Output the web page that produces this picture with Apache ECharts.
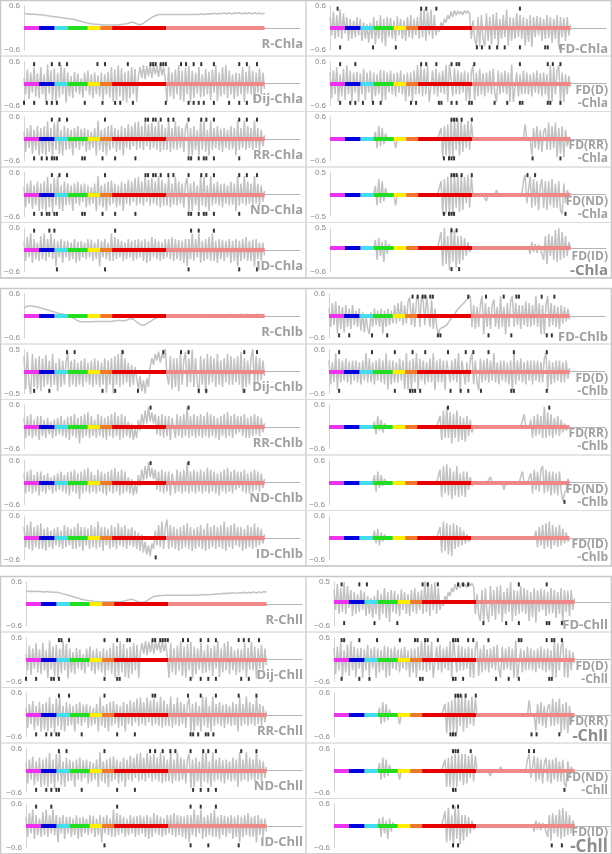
<!DOCTYPE html>
<html><head><meta charset="utf-8">
<script src="https://cdn.jsdelivr.net/npm/echarts@6/dist/echarts.min.js"></script>
<style>html,body{margin:0;padding:0;background:#fff}#c{width:612px;height:854px}</style>
</head><body><div id="c"></div>
<script>
// ---- colored region bar along the zero line (position units, 0..95) ----
const segBounds = [0, 5.9, 12.1, 17.3, 25.2, 30.1, 34.8, 56.2, 95];
const segColors = ['#ee33ee', '#0000dd', '#44ddee', '#22dd22', '#ffee00', '#f07828', '#e80000', '#f08888'];

// ---- series values ----
const rChla = [.40,.38,.39,.37,.38,.37,.36,.36,.35,.34,.33,.32,.31,.30,.29,.28,.27,.26,.25,.24,.23,.21,.19,.17,.15,.14,.12,.11,.10,.10,.09,.09,.08,.08,.08,.08,.08,.09,.09,.10,.11,.12,.15,.16,.13,.10,.09,.12,.17,.22,.27,.31,.34,.36,.37,.37,.37,.37,.37,.37,.37,.37,.37,.37,.37,.37,.37,.37,.37,.37,.38,.37,.38,.39,.38,.40,.38,.40,.39,.41,.39,.41,.38,.41,.40,.42,.38,.41,.39,.42,.38,.42,.39,.41,.38,.41];
const dijChla = [.15,-.3,.38,-.42,.3,-.25,.44,-.35,.28,-.4,
.45,-.3,.25,-.5,.52,-.28,.35,-.45,.4,-.5,.3,-.38,.5,-.3,.42,-.52,
.3,-.35,.2,-.4,.32,-.25,.28,-.3,.15,-.38,.3,-.2,.35,-.32,.25,-.4,.3,-.3,.22,-.35,.3,-.45,.25,-.3,.32,-.38,
.45,-.5,.38,-.45,.5,-.35,.42,-.48,.3,-.52,.35,-.4,.45,-.3,.4,-.5,.2,
.45,.15,.5,.12,.48,.2,.52,.15,.5,.25,.48,.18,.52,.22,.45,.1,
-.5,.45,-.35,.3,-.42,.38,-.3,.5,-.45,.35,-.5,.42,-.3,.48,-.52,.35,-.4,.3,-.28,.45,-.38,.25,-.35,.4,-.3,.32,-.45,.38,-.25,.5,-.48,.3,-.35,.45,-.3,.5,-.4,.35,-.3,.25,-.42,.3,-.35,.28,-.3,.45,-.5,.32,-.28,.48,-.3,.35,-.52,.3,-.25,.4,-.3,.3,-.15];
const rrChla = [.2,-.35,.3,-.25,.38,-.4,.25,-.3,.35,-.45,
.3,-.4,.35,-.45,.48,-.35,.3,-.5,.45,-.3,.5,-.4,.25,-.45,.35,-.3,
.3,-.28,.25,-.45,.3,-.25,.35,-.3,.28,-.2,.3,-.35,.25,-.3,.2,-.25,.3,-.45,.5,-.3,.25,-.35,.3,-.45,.35,-.3,
.38,-.25,.3,-.35,.25,-.3,.35,-.45,.3,-.25,.4,-.3,.35,-.2,.45,-.3,.48,-.25,.35,-.3,.48,-.2,.4,-.3,.45,-.25,.35,-.3,.5,-.35,.4,-.3,.3,
-.3,.5,-.35,.3,-.28,.48,-.3,.35,-.25,.3,-.35,.3,.45,-.48,.3,-.45,.35,-.3,.25,-.45,.5,-.3,.48,-.35,.25,-.45,.5,-.3,.3,-.25,.35,-.3,.28,-.35,.3,-.25,.25,-.3,.35,-.28,.3,-.45,.5,-.3,.3,-.25,.5,-.3,.35,-.25,.3,-.3,.5,-.25,.3,-.3,.25,-.2,.1];
const idChla = [.25,-.3,.35,-.2,.45,-.35,.3,-.25,.2,-.3,
.38,-.25,.45,-.3,.3,-.2,.45,-.25,.3,-.45,.25,-.2,.3,-.35,.25,-.2,
.25,-.3,.2,-.25,.3,-.35,.22,-.3,.25,-.2,.2,-.25,.3,-.2,.28,-.3,.2,-.25,.3,-.45,.25,-.2,.3,-.25,.2,-.3,
.45,-.3,.35,-.25,.3,-.2,.25,-.3,.2,-.25,.3,-.2,.25,-.3,.28,-.25,.3,-.2,.25,-.3,.3,-.35,.25,-.3,.35,-.2,.3,-.25,.25,-.3,.2,-.25,.3,
-.2,.3,-.25,.35,-.3,.3,-.25,.28,-.3,.25,-.35,.3,-.45,.3,-.25,.45,-.3,.3,-.2,.45,-.35,.25,-.3,.3,-.25,.35,-.3,.45,-.3,.25,-.35,.3,-.25,.28,-.3,.25,-.2,.3,-.35,.25,-.3,.3,-.45,.25,-.3,.3,-.25,.35,-.3,.25,-.3,.28,-.45,.3,-.25,.2,-.3,.2,-.15];
const fdChla = [.3,-.2,.45,-.3,.35,-.25,.5,-.3,.4,-.15,
.3,-.35,.25,-.3,.2,-.25,.3,-.2,.25,
-.35,.15,-.3,.1,-.4,.15,-.3,
.3,-.45,.2,-.3,.35,-.4,.25,-.5,.3,-.25,.28,-.3,.2,
-.35,.32,-.2,.25,-.3,.2,-.35,.3,-.25,.35,-.3,.25,-.2,.3,
-.3,.52,-.25,.5,-.35,.45,-.2,.5,-.3,.35,-.2,
.05,-.1,.15,.05,.25,.15,.35,.25,.45,.3,.48,.35,.47,.38,.45,.36,.48,.4,.47,.38,
-.3,.2,-.3,
-.48,.3,-.5,.35,-.3,-.5,.4,-.35,.3,-.45,.38,-.3,.42,-.5,.25,-.3,.35,-.25,.5,-.48,.3,-.35,.28,-.3,.4,-.25,.35,-.3,.3,-.48,.25,-.38,.35,-.52,.3,-.25,.33,-.2,.3,-.35,.25,-.3,.35,-.28,.3,-.4,.25,-.3,.35,-.5,.3,-.25,.28,-.35,.3,-.2,.1];
const fdDChla = [.3,-.4,.35,-.3,.45,-.5,.25,-.35,.4,-.45,
.5,-.3,.35,-.48,.3,-.25,.32,-.5,.28,-.3,.4,-.45,.3,-.25,.35,-.5,
.3,-.35,.25,-.3,.38,-.5,.35,-.45,.3,-.25,.35,-.3,.28,-.35,.3,-.25,.35,-.3,.25,-.48,.3,-.35,.3,-.5,.35,-.3,
.5,-.3,.52,-.35,.4,-.3,.48,-.5,-.45,.35,-.3,.4,-.35,.3,-.25,.35,-.3,.5,-.5,.52,.48,-.35,.4,-.3,.35,-.3,.3,-.25,.35,-.48,.3,-.5,.3,
.5,-.45,.3,-.35,.4,-.3,.28,-.35,.3,-.25,.35,-.3,.4,-.28,-.5,.35,-.3,.3,-.25,.35,-.3,.3,-.5,.52,-.5,-.45,.3,-.35,.25,-.3,.35,-.28,.3,-.3,.25,-.35,.3,-.25,.35,-.3,.28,-.35,.3,-.3,.25,-.5,.5,-.5,.45,-.3,.35,.5,-.48,.3,-.5,.25,-.3,.2,-.1];
const fdRRChla = [0,0,0,0,0,0,0,0,0,0, 0,0,0,0,0,0,0,0,0,0, 0,0,0,0,0,0,0,
.2,-.25,.35,-.2,.3,-.15,.15,
0,0,0,0,0,
-.25,
0,0,0,0,0,0,0,0,0,0, 0,0,0,0,0,0,0,0,0,0, 0,0,0,0,0,0,
.3,-.5,.35,-.45,.4,-.5,.55,-.5,.55,-.3,.55,-.45,.5,-.35,.4,-.25,.5,-.3,.45,
0,0,0,0,0,0,0,0,0,0, 0,0,0,0,0,0,0,0,0,0, 0,0,0,0,0,0,0,0,0,0, 0,
.4,
0,0,0,
-.45,.3,-.25,.35,-.3,.25,-.35,.2,.3,-.3,.45,-.3,.35,-.25,.45,-.5,.3,-.4,.35,-.5,.25,-.2,
0,0];
const fdNDChla = [0,0,0,0,0,0,0,0,0,0, 0,0,0,0,0,0,0,0,0,0, 0,0,0,0,0,0,0,
.2,-.25,.35,-.2,.3,-.15,.15,
0,0,0,0,0,
-.25,
0,0,0,0,0,0,0,0,0,0, 0,0,0,0,0,0,0,0,0,0, 0,0,0,0,0,0,
.3,-.45,.35,-.45,.4,-.45,.45,-.45,.45,-.3,.45,-.4,.45,-.35,.4,-.2,.45,-.3,.4,
0,0,0,0,0,0,0,0,
-.15,
0,0,0,0,0,
.1,
0,0,0,0,0,0,0,0,0,0, 0,0,0,0,0,
.3,.45,-.2,.1,
.4,-.3,.35,-.25,.3,-.35,.2,.35,-.3,.3,-.35,.3,-.25,.35,-.3,.25,-.3,.3,-.35,-.45,.25,-.2,.1,
0,0];
const fdIDChla = [0,0,0,0,0,0,0,0,0,0, 0,0,0,0,0,0,0,0,0,0, 0,0,0,0,0,0,0,
.2,-.3,.25,-.2,.15,-.35,.2,-.15,.1,
0,0,0,0,0,0,0,0,0,0, 0,0,0,0,0,0,0,0,0,0, 0,0,0,0,0,0,0,0,0,0,
.4,-.45,.5,-.4,.3,-.55,.55,-.35,.45,-.5,.3,-.4,.3,-.3,.25,-.2,.15,-.1,
0,0,0,0,0,0,0,0,0,0, 0,0,0,0,0,0,0,0,0,0, 0,0,0,0,0,0,0,0,0,0, 0,0,0,0,0,
-.15,.15,-.1,.1,-.12,.08,
0,0,
-.3,.3,-.4,.35,-.2,.3,-.3,.45,-.35,.5,-.3,.4,-.25,.3,-.2,.15,
0];

const rChlb = [.22,.26,.27,.27,.26,.25,.23,.21,.19,.17,.15,.13,.11,.09,.07,.06,.04,.03,0,-.04,-.08,-.12,-.15,-.16,-.16,-.16,-.16,-.16,-.15,-.15,-.15,-.15,-.15,-.15,-.15,-.14,-.13,-.12,-.12,-.13,-.13,-.1,-.07,-.08,-.13,-.19,-.24,-.25,-.23,-.19,-.14,-.1,-.06,-.03,-.01,0,.01,.02,.02,.02,.02,.03,.02,.02,.03,.02,.03,.02,.03,.02,.03,.02,.03,.02,.03,.04,.02,.03,.04,.02,.04,.02,.05,.01,.04,.02,.05,.01,.05,.02,.04,.01,.05,.02,.04,.03];
const dijChlb = [.35,-.4,.45,-.3,-.52,.4,-.35,.3,-.4,.35,
-.45,.3,-.35,.38,-.3,.25,-.35,.4,-.3,.2,-.45,.3,-.35,.25,-.3,.2,
.42,-.35,.25,-.3,.28,-.35,.2,-.3,.25,-.35,.3,-.25,.2,-.3,.25,-.35,.3,-.3,.25,-.35,.2,-.3,.3,-.48,.25,-.3,
.3,-.5,.35,-.3,.4,-.35,.5,-.3,.3,-.25,.2,-.35,.15,-.3,.1,
-.15,-.4,-.1,-.45,-.2,-.5,-.15,-.35,
.1,.3,.15,.4,.25,.45,.2,.4,.3,.55,-.1,
-.3,.35,-.4,.3,-.35,.3,-.45,.4,-.3,.25,.45,-.35,.3,-.25,.5,-.35,.3,-.25,-.5,.35,-.3,.3,-.5,.4,-.3,.35,-.25,.3,-.35,.4,-.3,.25,-.35,.3,-.25,.4,-.3,.35,-.3,.3,-.25,.35,-.3,.45,-.5,.3,-.35,.25,-.3,.3,.5,-.3,.35,-.25,.3,-.2,.25,-.1];
const rrChlb = [.25,-.3,.3,-.25,.35,-.3,.2,-.25,.3,-.35,
.3,-.25,.2,-.3,.25,-.2,.15,-.3,.2,-.25,.25,-.2,.3,-.25,.2,-.3,
.28,-.35,.3,-.25,.35,-.3,.25,-.45,.3,-.3,.35,-.25,.4,-.3,.3,-.25,.2,-.3,.35,-.25,.3,-.3,.25,-.35,.3,-.25,
.35,-.3,.4,-.25,.3,-.35,.35,-.3,.3,-.25,.15,-.3,.1,-.35,-.05,-.3,.2,-.1,.35,.05,.45,.1,.55,.15,.4,.1,.35,-.2,.3,-.25,.35,-.3,.3,
-.25,.3,-.35,.25,.3,-.3,.35,-.25,.3,-.3,.35,-.25,.55,-.3,.3,-.25,.35,-.3,.3,-.25,.35,-.3,.3,-.25,.4,-.3,.35,-.25,.3,-.3,.25,-.35,.3,-.25,.35,-.3,.4,-.25,.3,-.3,.35,-.2,.3,-.15,.3,-.25,.35,-.3,.25,-.3,.3,-.25,.35,-.2,.3,-.25,.25,-.15,.1];
const idChlb = [.3,-.25,.35,-.3,.45,-.35,.3,-.25,.35,-.3,
.4,-.3,.25,-.35,.3,-.25,.2,-.3,.25,-.2,.3,-.25,.2,-.3,.35,-.25,
.3,-.2,.25,-.3,.3,-.3,.4,-.25,.3,-.35,.3,-.2,.25,-.3,.35,-.25,.3,-.3,.45,-.25,.3,-.35,.3,-.2,.25,-.3,
.35,-.25,.3,-.3,.4,-.2,.3,-.25,.35,-.3,.25,-.2,.3,-.25,.2,-.3,.15,-.35,.1,-.4,-.1,-.45,-.2,-.5,-.15,-.3,.2,-.2,.35,-.25,.45,-.3,.3,
.5,-.3,.35,-.25,.3,-.3,.25,-.35,.3,-.3,.35,-.25,.4,-.3,.3,-.35,.25,-.3,.3,-.25,.35,-.3,.25,-.35,.4,-.3,.3,-.25,.35,-.3,.3,-.25,.35,-.3,.45,-.35,.3,-.25,.35,-.3,.4,-.2,.3,-.25,.3,-.35,.25,-.3,.35,-.25,.3,-.3,.4,-.25,.3,-.2,.25,-.15,.1];
const fdChlb = [.2,-.3,.35,-.25,.4,-.48,.3,-.35,.25,-.45,
.3,-.3,.2,-.35,.3,-.25,.15,-.3,.2,
-.4,.1,-.45,.05,-.35,-.5,.1,
-.3,.2,-.25,.15,-.3,.2,-.48,.15,-.3,.2,-.25,.15,-.2,
.3,-.2,.35,-.15,.4,-.25,.3,-.2,.4,.5,-.25,.35,-.3,.45,
.55,-.3,.55,.4,-.25,.55,.5,-.3,.45,-.35,.2,
-.3,-.5,-.35,-.4,-.3,-.35,-.25,
-.2,-.1,-.15,0,.05,.15,.1,.25,.2,.35,.3,.45,.4,.55,
-.3,.3,-.35,.25,-.3,.3,.55,-.5,.35,-.3,.25,-.35,.3,.45,-.3,.25,-.35,.55,-.3,.25,-.5,.35,-.3,.4,.55,-.3,.35,-.25,.3,-.35,.3,-.25,.4,-.3,.35,-.3,.3,-.25,.55,-.3,.35,-.5,.3,-.5,.3,.55,-.3,.35,-.25,.3,-.3,.25,-.35,.3,-.2,.25,-.15,.2,-.1];
const fdDChlb = [.3,-.35,.25,-.3,.5,-.5,.35,-.3,.3,-.25,
.35,-.3,.28,-.35,.3,-.25,.3,-.3,.25,-.35,.3,-.25,.5,-.3,.35,-.3,
.25,-.35,.3,-.25,.35,-.3,.3,-.35,.5,-.5,.3,-.35,.3,-.3,.25,-.3,.35,-.25,.3,-.48,.5,-.5,.3,-.48,.35,-.3,
.5,-.5,.35,-.25,.3,-.35,.25,-.3,.35,-.3,.5,-.5,.3,-.3,.35,-.3,.3,-.5,.3,.35,-.3,.3,-.25,.35,-.3,.5,-.5,.3,.3,-.35,.25,-.3,.3,
.5,-.35,.3,-.3,-.5,.35,-.3,.3,-.25,.35,-.3,.3,-.25,.5,-.3,.25,-.35,.3,-.25,.3,-.3,.25,-.35,.3,-.5,.5,-.35,.3,-.25,.35,-.3,.25,-.35,.3,-.25,.3,-.35,.3,-.25,.3,-.3,.25,-.3,.35,.5,-.5,.3,-.35,.25,-.3,.3,-.25,.3,-.3,.25,-.3,.3,-.2,.1];
const fdRRChlb = [0,0,0,0,0,0,0,0,0,0, 0,0,0,0,0,0,0,0,0,0, 0,0,0,0,0,0,0,
.15,-.2,.3,-.1,.2,-.15,.1,
0,0,0,0,0,0,0,0,0,0, 0,0,0,0,0,0,0,0,0,0, 0,0,0,0,0,0,0,0,0,0, 0,0,
.3,-.35,.45,-.3,.55,-.3,.4,-.45,.35,-.3,.45,-.4,.3,-.35,.25,-.4,.3,-.25,.2,-.15,
0,0,0,0,0,0,0,0,0,0, 0,0,0,0,0,0,0,0,0,0, 0,0,0,0,0,0,0,0,0,0,
.35,
0,0,0,
.2,-.3,.3,-.25,.35,-.2,.3,-.3,.55,-.3,.4,-.25,.35,-.3,.25,-.2,.3,-.25,.2,-.15,.1,-.1,
0,0];
const fdNDChlb = [0,0,0,0,0,0,0,0,0,0, 0,0,0,0,0,0,0,0,0,0, 0,0,0,0,0,0,0,
.2,-.25,.3,-.15,.2,-.1,.1,
0,0,0,0,0,0,0,0,0,0, 0,0,0,0,0,0,0,0,0,0, 0,0,0,0,0,0,0,0,0,0, 0,0,
.35,-.4,.45,-.3,.5,-.35,.4,-.45,.3,-.35,.45,-.4,.25,-.35,.3,-.4,.3,-.2,.15,-.1,
0,0,0,0,0,0,0,0,0,0,
.15,
0,0,0,0,0,0,0,
-.2,
0,0,0,0,0,0,0,0,0,0,
.3,
0,0,0,0,
.25,-.3,.35,-.2,.3,-.25,.35,.45,-.3,.35,-.25,.3,-.35,.3,-.3,.25,-.35,.3,-.25,-.5,-.3,-.2,.1,
0];
const fdIDChlb = [0,0,0,0,0,0,0,0,0,0, 0,0,0,0,0,0,0,0,0,0, 0,0,0,0,0,0,0,
.2,-.15,.25,-.2,.15,-.1,.1,
0,0,0,0,0,0,0,0,0,0, 0,0,0,0,0,0,0,0,0,0, 0,0,0,0,0,0,0,0,0,0, 0,0,
.3,-.4,.45,-.35,.4,-.45,.35,-.5,.4,-.3,.35,-.25,.3,-.2,.2,-.15,.1,-.1,
0,0,0,0,0,0,0,0,0,0, 0,0,0,0,0,0,0,0,0,0, 0,0,0,0,0,0,0,0,0,0, 0,0,0,0,0,0,0,0,0,
.2,-.25,.3,-.2,.35,-.3,.4,-.25,.45,-.3,.35,-.2,.3,-.25,.35,-.2,.25,-.15,.15,-.1,
0];

const rChll = [.36,.34,.35,.34,.35,.34,.34,.33,.34,.33,.33,.32,.32,.31,.29,.27,.25,.23,.21,.19,.17,.15,.13,.11,.1,.09,.08,.07,.07,.06,.06,.06,.06,.06,.06,.06,.06,.06,.07,.08,.1,.12,.12,.1,.07,.05,.04,.06,.1,.15,.19,.21,.22,.23,.23,.24,.24,.24,.24,.24,.24,.24,.24,.24,.24,.24,.24,.24,.24,.25,.25,.25,.25,.26,.26,.27,.27,.28,.29,.28,.3,.29,.31,.29,.31,.3,.32,.29,.32,.3,.33,.3,.33,.31,.34,.32];

// ---- black extreme markers: [top positions], [bottom positions] (0..95) ----
const mk = {
  dijChla: [[4,11,14,17,29,32,41,50,51,52,54,55,56,62,64,67,70,75,85,88,92],[0,4,9,11,13,24,31,36,38,43,56,65,67,69,71,75,81,85,88]],
  rrChla: [[11,14,17,32,48,49,51,52,54,57,59,65,70,72,75,85,88,92],[4,7,9,11,12,13,23,24,31,36,44,65,66,69,71,72,75,85]],
  ndChla: [[11,14,17,32,48,49,51,52,54,57,59,65,70,72,75,85,88,92],[4,7,9,10,12,13,23,24,31,36,44,65,66,69,71,72,75,85]],
  idChla: [[4,10,12,36,66,69,75],[13,32,65,85,92]],
  fdChla: [[3,36,38,42,75],[4,17,26,58,60,63,66,69,75,85,86,91]],
  fdDChla: [[4,10,36,38,42,48,50,51,57,75,86,88,91],[4,8,10,13,17,20,32,34,43,44,48,50,55,56,65,70,75,76,86,87,91]],
  fdRRChla: [[48,49,50,52,56],[45,47,48,49,80,91]],
  fdNDChla: [[48,49,50,52,56,78,81],[45,47,48,49,93]],
  fdIDChla: [[48,50],[48,51]],
  dijChlb: [[17,20,39,55,62,65,87,92],[4,10,31,36,45,69,72,87]],
  rrChlb: [[50,65],[]],
  ndChlb: [[50,65],[]],
  idChlb: [[],[52]],
  fdChlb: [[33,35,37,38,40,41,55,62,69,74,75,84,89],[4,8,17,23,43,44,63,72,86,88]],
  fdDChlb: [[4,17,26,33,38,47,54,57,63,73,86],[4,26,32,33,34,36,48,52,55,60,72,73,86]],
  fdRRChlb: [[47,87],[]],
  fdNDChlb: [[],[93]],
  fdIDChlb: [[],[]],
  dijChll: [[13,14,17,31,36,40,41,50,51,53,54,55,56,62,64,69,72,75,84,86,88,92],[0,4,10,11,13,31,36,37,65,69,72,75,85,88]],
  rrChll: [[13,17,31,50,51,64,69,75,84,91],[4,8,10,12,13,22,36,43,65,66,68,71,72,74]],
  ndChll: [[13,16,31,49,51,54,57,59,65,70,72,75,85,91],[4,8,10,12,13,22,36,43,66,69,72,75]],
  idChll: [[4,10,36,65,69,75],[31,65,72,84]],
  fdChll: [[3,10,13,35,37,41,49,51,53,73,84],[4,16,25,59,68,73,84,85,90]],
  fdDChll: [[3,4,10,17,26,32,33,36,37,41,47,48,49,53,55,61,73,74,84,86,87,90],[3,10,14,34,35,47,48,51,64,69,73,85,86]],
  fdRRChll: [[48,49,50,52,56],[46,47,48,78,80,89]],
  fdNDChll: [[47,48,49,54,77,79],[47,48,91]],
  fdIDChll: [[47,49],[47,49,86,90]]
};

// ---- axis ranges that differ from the usual -0.6 .. 0.6 ----
const yRange = {'FD(ND)Chla': [-0.5, 0.5], 'FD(ID)Chla': [-0.6, 0.5], 'DijChlb': [-0.5, 0.5], 'FDChll': [-0.6, 0.5]};

// ---- panels ----
const groupNames = ['Chla', 'Chlb', 'Chll'];
const leftNames = ['R', 'Dij', 'RR', 'ND', 'ID'];
const rightNames = ['FD', 'FD(D)', 'FD(RR)', 'FD(ND)', 'FD(ID)'];
const values = {
  Chla: [rChla, dijChla, rrChla, rrChla, idChla, fdChla, fdDChla, fdRRChla, fdNDChla, fdIDChla],
  Chlb: [rChlb, dijChlb, rrChlb, rrChlb, idChlb, fdChlb, fdDChlb, fdRRChlb, fdNDChlb, fdIDChlb],
  Chll: [rChll, dijChla, rrChla, rrChla, idChla, fdChla, fdDChla, fdRRChla, fdNDChla, fdIDChla]
};
const markKeys = ['r','dij','rr','nd','id','fd','fdD','fdRR','fdND','fdID'];
const bigSuffix = {'FD(ID)Chla': 15, 'FD(RR)Chll': 16, 'FD(ID)Chll': 17};

// layout
const N = 96;
const groupTop = [0, 288, 576];
const rowPitch = 55.5;
const leftX = [24, 24, 26], rightX = [330, 329, 334];
const gridW = 276, xMax = 109;

const grids = [], xAxes = [], yAxes = [], series = [], graphics = [];
let idx = 0;
groupNames.forEach((gn, g) => {
  for (let c = 0; c < 2; c++) {
    for (let r = 0; r < 5; r++) {
      const k = c * 5 + r;
      const pname = (c === 0 ? leftNames[r] : rightNames[r]);
      const vals = values[gn][k];
      const m = mk[markKeys[k] + gn] || [[], []];
      const rng = yRange[pname + gn] || [-0.6, 0.6];
      const frameTop = groupTop[g] + r * rowPitch;
      const zero = frameTop + 28;
      const left = c === 0 ? leftX[g] : rightX[g];
      grids.push({left: left, top: zero - 22, width: gridW, height: 44});
      xAxes.push({type: 'value', gridIndex: idx, min: 0, max: xMax, axisLine: {onZero: true, lineStyle: {color: '#b4b4b4', width: 1}}, axisTick: {show: false}, axisLabel: {show: false}, splitLine: {show: false}});
      yAxes.push({type: 'value', gridIndex: idx, min: rng[0], max: rng[1], interval: 0.1,
        axisLine: {show: true, lineStyle: {color: '#d4d4d4'}}, axisTick: {show: false}, splitLine: {show: false},
        axisLabel: {fontSize: 8, color: '#8a8a8a', margin: 4, fontFamily: 'Liberation Sans', showMinLabel: true, showMaxLabel: true,
          formatter: v => (Math.abs(v - rng[0]) < 1e-6 || Math.abs(v - rng[1]) < 1e-6) ? (v < 0 ? '\u2212' + (+(-v).toFixed(1)) : '' + (+v.toFixed(1))) : ''}});
      const kx = (N - 1) / (vals.length - 1);
      series.push({type: 'line', xAxisIndex: idx, yAxisIndex: idx, data: vals.map((v, i) => [i * kx, v]),
        symbol: 'none', lineStyle: {color: '#c2c2c2', width: 1.5}, silent: true, z: 2, animation: false});
      series.push({type: 'line', xAxisIndex: idx, yAxisIndex: idx, data: [[0, 0]], symbol: 'none', lineStyle: {width: 0}, z: 3, animation: false,
        markLine: {symbol: ['none', 'none'], silent: true, animation: false, label: {show: false},
          data: segColors.map((col, s) => [{coord: [segBounds[s], 0], lineStyle: {color: col, width: 4, type: 'solid'}}, {coord: [segBounds[s + 1], 0]}])}});
      series.push({type: 'scatter', xAxisIndex: idx, yAxisIndex: idx, symbol: 'rect', symbolSize: [2, 4], itemStyle: {color: '#000'}, z: 4, silent: true, animation: false,
        data: m[0].map(i => [i, rng[1] * 0.88]).concat(m[1].map(i => [i, rng[0] * 0.88]))});
      graphics.push({type: 'rect', shape: {x: c === 0 ? 0.5 : 306.5, y: frameTop + 0.5, width: 305, height: rowPitch}, style: {fill: 'none', stroke: '#dcdcdc', lineWidth: 1}, z: 0});
      const xr = c === 0 ? 303 : 608;
      if (c === 0 || r === 0) {
        graphics.push({type: 'text', x: xr, y: zero + (c === 0 ? 16 : 21), style: {text: pname + '-' + gn, align: 'right', verticalAlign: 'middle', font: 'bold 13px "Open Sans"', fill: '#a0a0a0'}, z: 10});
      } else {
        const big = bigSuffix[pname + gn];
        graphics.push({type: 'text', x: xr, y: zero + 7, style: {text: pname, align: 'right', verticalAlign: 'middle', font: 'bold 12px "Open Sans"', fill: '#a0a0a0'}, z: 10});
        graphics.push({type: 'text', x: xr, y: zero + (big ? 21 : 20), style: {text: '-' + gn, align: 'right', verticalAlign: 'middle', font: 'bold ' + (big || 12) + 'px "Open Sans"', fill: big ? '#8c8c8c' : '#a0a0a0'}, z: 10});
      }
      idx++;
    }
  }
  graphics.push({type: 'rect', shape: {x: 0.5, y: groupTop[g] + 0.5, width: 611, height: rowPitch * 5}, style: {fill: 'none', stroke: '#c8c8c8', lineWidth: 1.5}, z: 0});
});

const chart = echarts.init(document.getElementById('c'), null, {renderer: 'canvas'});
chart.setOption({animation: false, grid: grids, xAxis: xAxes, yAxis: yAxes, series: series, graphic: graphics});
</script>
</body></html>
